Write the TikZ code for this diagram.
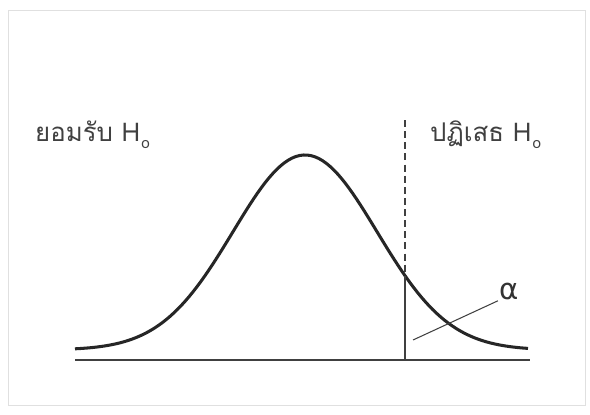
\documentclass[tikz,border=0pt]{standalone}
\usepackage{fontspec}
\newfontfamily\thaifont[Script=Thai]{Loma}
\newfontfamily\greekfont{DejaVu Sans}
\usetikzlibrary{positioning}

\tikzset{
  bell/.style={line width=2.6pt, black!85},
  axisline/.style={line width=1.1pt, black!75},
  critline/.style={line width=0.9pt, black!75},
  regionlabel/.style={font=\thaifont\fontsize{22}{24}\selectfont, text=black!75, inner sep=0pt},
}
\newcommand{\Hnull}{H\kern1pt\raisebox{-0.55ex}{\fontsize{13}{13}\selectfont o}}

\begin{document}
\begin{tikzpicture}[x=0.03cm, y=-0.03cm]

\useasboundingbox (0,0) rectangle (590,414);
% scanned frame
\draw[black!12, line width=0.6pt] (8,10) rectangle (585,405);

% === Region labels ===
\node[regionlabel, anchor=base west] (accept) at (35,141) {ยอมรับ \Hnull};
\node[regionlabel, anchor=base west] (reject) at (430,141) {ปฏิเสธ \Hnull};

% === Axis and normal curve ===
\coordinate (axisL) at (75,360);
\coordinate (axisR) at (530,360);
\draw[axisline] (axisL) -- (axisR);
\draw[bell] plot[domain=75:528, samples=120]
  (\x, {350-195*exp(-0.5*((\x-305)/72)^2)});

% === Critical value ===
\coordinate (crit) at (405, {350-195*exp(-0.5*((405-305)/72)^2)});
\coordinate (critfoot) at (405,360);
\coordinate (crittop) at (405,120);
\draw[critline] (crit) -- (critfoot);
\draw[critline, dashed, dash pattern=on 6pt off 3.5pt] (crittop) -- (crit);

% === alpha pointer ===
\node[font=\greekfont\fontsize{25}{25}\selectfont, text=black!80, inner sep=1pt] (alpha) at (509,291) {α};
\coordinate (tail) at (413,340);
\draw[critline] (tail) -- (alpha.south west);

\end{tikzpicture}
\end{document}
